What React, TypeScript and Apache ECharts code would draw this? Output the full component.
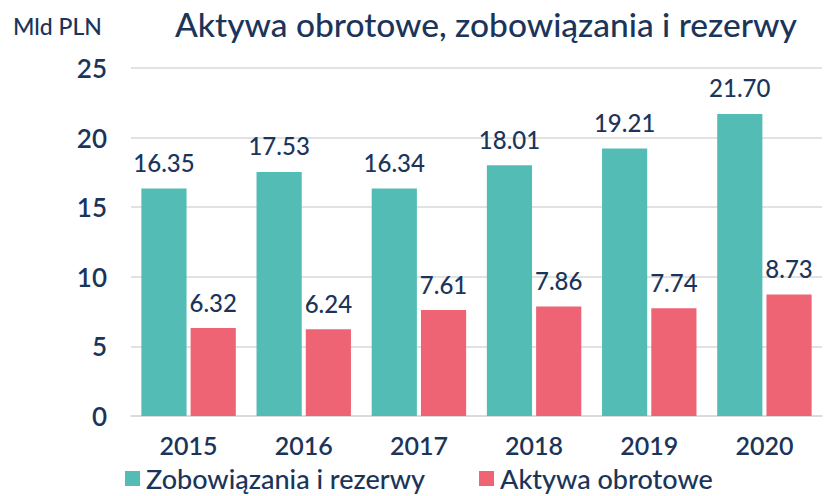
import React, { useEffect, useRef } from "react";
import * as echarts from "echarts";

const categories = ["2015", "2016", "2017", "2018", "2019", "2020"];
const liabilities = [16.35, 17.53, 16.34, 18.01, 19.21, 21.7];
const currentAssets = [6.32, 6.24, 7.61, 7.86, 7.74, 8.73];
const seriesNames = ["Zobowiązania i rezerwy", "Aktywa obrotowe"];
const yTicks = { min: 0, max: 25, interval: 5 };

const NAVY = "#1B355A";
const TEAL = "#53BCB5";
const RED = "#EE6475";
const FONT = "Lato";

export default function App() {
  const ref = useRef<HTMLDivElement>(null);
  useEffect(() => {
    if (!ref.current) return;
    const chart = echarts.init(ref.current, null, { renderer: "svg" });
    const label = {
      show: true,
      position: "top",
      distance: 14,
      color: NAVY,
      fontFamily: FONT,
      fontSize: 24,
      fontWeight: 500,
      formatter: (p: any) => Number(p.value).toFixed(2),
    };
    chart.setOption({
      animation: false,
      textStyle: { fontFamily: FONT },
      title: [
        {
          text: "Aktywa obrotowe, zobowiązania i rezerwy",
          left: 170,
          top: 2,
          textStyle: { color: NAVY, fontFamily: FONT, fontSize: 33.5, fontWeight: 500 },
        },
        {
          text: "Mld PLN",
          left: 8,
          top: 9,
          textStyle: { color: NAVY, fontFamily: FONT, fontSize: 23, fontWeight: 500 },
        },
      ],
      legend: {
        left: 120,
        top: 460,
        itemWidth: 15,
        itemHeight: 15,
        itemGap: 54,
        icon: "rect",
        textStyle: {
          color: NAVY,
          fontFamily: FONT,
          fontSize: 27,
          lineHeight: 27,
          fontWeight: 500,
          padding: [0, 0, 0, 1],
        },
        data: seriesNames,
      },
      grid: { left: 131, right: 3, top: 68, bottom: 80 },
      xAxis: {
        type: "category",
        data: categories,
        axisLine: { lineStyle: { color: "#D9D9D9", width: 1.5 } },
        axisTick: { show: false },
        axisLabel: { color: NAVY, fontFamily: FONT, fontSize: 25, fontWeight: 600, margin: 16 },
      },
      yAxis: {
        type: "value",
        min: yTicks.min,
        max: yTicks.max,
        interval: yTicks.interval,
        axisLine: { show: false },
        axisTick: { show: false },
        splitLine: { lineStyle: { color: "#D9D9D9", width: 1.5 } },
        axisLabel: { color: NAVY, fontFamily: FONT, fontSize: 26, fontWeight: 600, margin: 24 },
      },
      series: [
        {
          name: seriesNames[0],
          type: "bar",
          data: liabilities,
          itemStyle: { color: TEAL },
          barGap: "9%",
          barCategoryGap: "18%",
          label,
        },
        {
          name: seriesNames[1],
          type: "bar",
          data: currentAssets,
          itemStyle: { color: RED },
          barGap: "9%",
          barCategoryGap: "18%",
          label,
        },
      ],
    });
    return () => chart.dispose();
  }, []);
  return <div ref={ref} style={{ width: 825, height: 496, position: "absolute", left: 0, top: 0 }} />;
}
